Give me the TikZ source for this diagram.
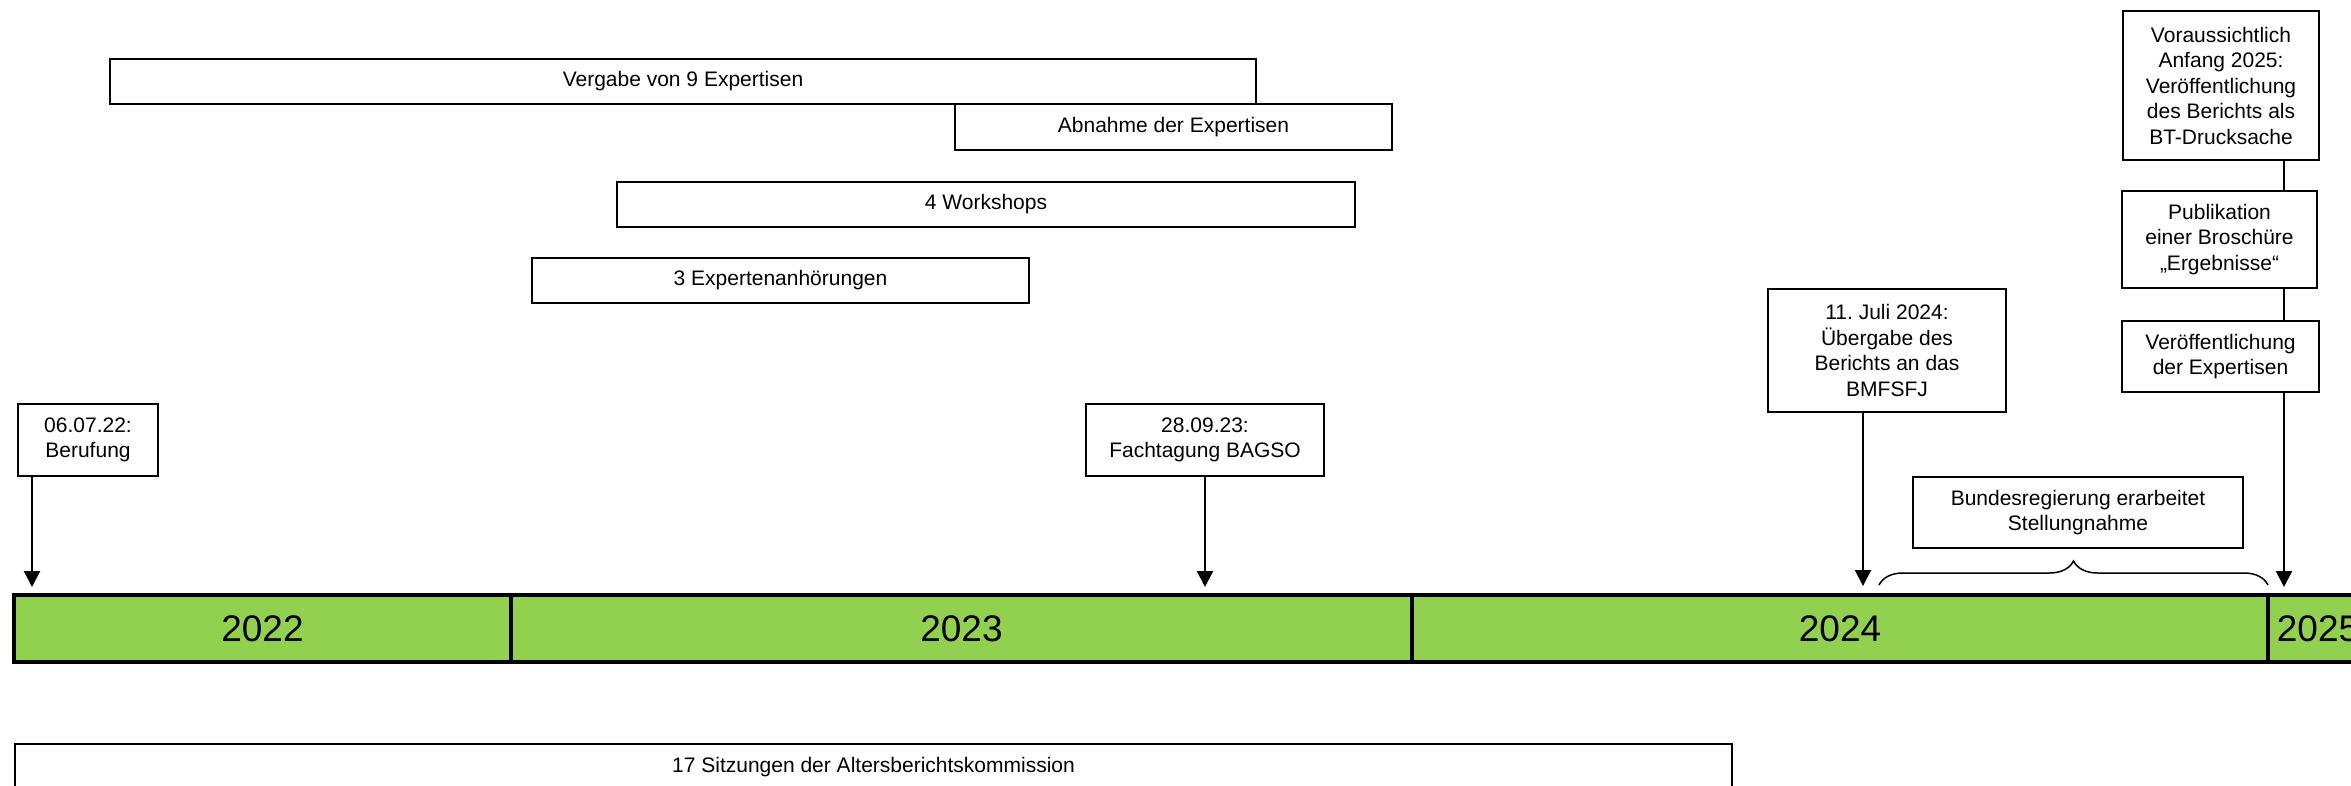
\documentclass[tikz,border=0pt]{standalone}
\usepackage{fontspec}
\setmainfont{Liberation Sans}
\usetikzlibrary{arrows.meta,decorations.pathreplacing}
\definecolor{bargreen}{HTML}{92D050}
\frenchspacing
\begin{document}
\begin{tikzpicture}[x=1pt,y=-1pt,
  box/.style={draw=black, line width=1.5pt, fill=white, inner sep=0pt, align=center,
    font=\fontsize{21}{25.5}\selectfont},
  yearcell/.style={draw=black, line width=3.5pt, fill=bargreen, inner sep=0pt,
    minimum height=67pt, font=\fontsize{37}{40}\selectfont},
  pointer/.style={line width=2.2pt, -{Triangle[width=16pt,length=16pt]}},
  link/.style={line width=1.5pt},
  bracestyle/.style={line width=1.5pt, decorate, decoration={brace, amplitude=24pt}}]
\useasboundingbox (0,0) rectangle (2351,786);
\clip (0,0) rectangle (2351,786);

% activity bars
\node[box, minimum width=1146pt, minimum height=45pt] (vergabe) at (683,81.5) {Vergabe von 9 Expertisen};
\node[box, minimum width=437pt, minimum height=46pt] (abnahme) at (1173.5,127) {Abnahme der Expertisen};
\node[box, minimum width=738pt, minimum height=45pt] (workshops) at (986,204.5) {4 Workshops};
\node[box, minimum width=497pt, minimum height=45pt] (anhoerung) at (780.5,280.5) {3 Expertenanhörungen};

% event boxes
\node[box, minimum width=140pt, minimum height=72pt] (berufung) at (88,440) {06.07.22:\\Berufung};
\node[box, minimum width=238pt, minimum height=72pt] (fachtagung) at (1205,440) {28.09.23:\\Fachtagung BAGSO};
\node[box, minimum width=238pt, minimum height=123pt] (uebergabe) at (1887,350.5) {11. Juli 2024:\\Übergabe des\\Berichts an das\\BMFSFJ};
\node[box, minimum width=196pt, minimum height=149pt] (voraus) at (2221,85.5) {Voraussichtlich\\Anfang 2025:\\Veröffentlichung\\des Berichts als\\BT-Drucksache};
\node[box, minimum width=195pt, minimum height=97pt] (publikation) at (2219.5,239.5) {Publikation\\einer Broschüre\\„Ergebnisse“};
\node[box, minimum width=197pt, minimum height=71pt] (veroeff) at (2220.5,356.5) {Veröffentlichung\\der Expertisen};
\node[box, minimum width=330pt, minimum height=71pt] (bund) at (2078,512.5) {Bundesregierung erarbeitet\\Stellungnahme};

% year bar
\node[yearcell, minimum width=497pt] (y2022) at (262.5,628.5) {2022};
\node[yearcell, minimum width=901pt] (y2023) at (961.5,628.5) {2023};
\node[yearcell, minimum width=856pt] (y2024) at (1840,628.5) {2024};
\node[yearcell, minimum width=100pt] (y2025) at (2318,628.5) {2025};

% bottom bar
\node[box, minimum width=1717pt, minimum height=46pt] (sitzungen) at (873.5,767) {17 Sitzungen der Altersberichtskommission};

% arrow tips and brace ends
\coordinate (tip1) at (32,587);
\coordinate (tip2) at (1205,587);
\coordinate (tip3) at (1863,586);
\coordinate (tip4) at (2284,587);
\coordinate (braceL) at (1879,585);
\coordinate (braceR) at (2268,585);

\draw[pointer] (berufung.south -| tip1) -- (tip1);
\draw[pointer] (fachtagung.south) -- (tip2);
\draw[pointer] (uebergabe.south -| tip3) -- (tip3);
\draw[link] (voraus.south -| tip4) -- (publikation.north -| tip4);
\draw[link] (publikation.south -| tip4) -- (veroeff.north -| tip4);
\draw[pointer] (veroeff.south -| tip4) -- (tip4);
\draw[bracestyle] (braceL) -- (braceR);
\end{tikzpicture}
\end{document}
